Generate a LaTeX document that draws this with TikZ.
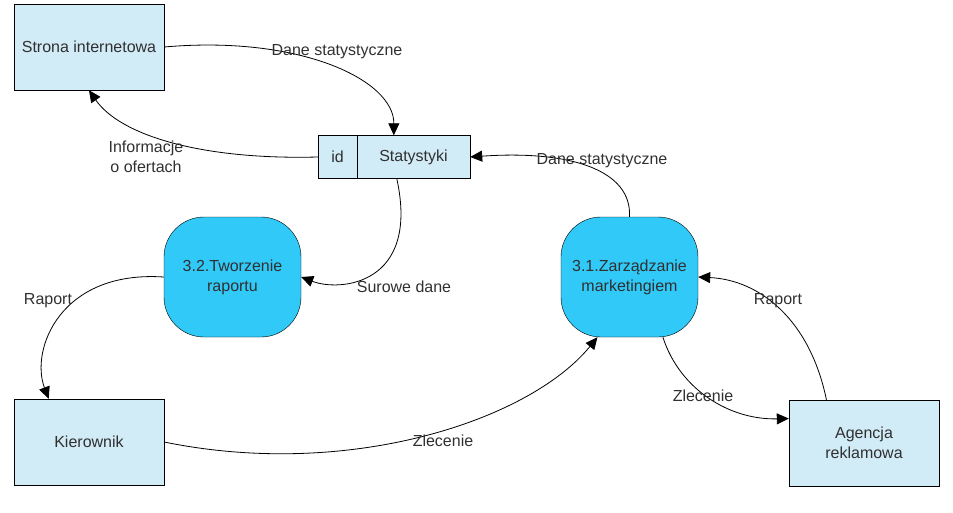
\documentclass[tikz,border=0pt]{standalone}
\usepackage{fontspec}
\setmainfont{Liberation Sans}
\usetikzlibrary{arrows.meta,positioning}
\definecolor{extfill}{RGB}{209,235,247}
\definecolor{procfill}{RGB}{49,201,247}
\definecolor{txt}{RGB}{48,48,48}
\begin{document}
\begin{tikzpicture}[
  x=1pt, y=-1pt,
  >={Triangle[length=12pt,width=11pt]},
  every node/.style={
    text=txt, align=center,
    font=\fontsize{16}{20}\selectfont},
  ext/.style={draw,fill=extfill,inner sep=0pt,
    minimum width=150pt, minimum height=86pt},
  proc/.style={draw,fill=procfill,inner sep=0pt,rounded corners=40pt,
    minimum width=137pt, minimum height=120pt},
  store/.style={draw,fill=extfill,inner sep=0pt,minimum height=43pt},
  flow/.style={->,line width=0.8pt},
  lab/.style={inner sep=1pt}]

  \useasboundingbox (0,0) rectangle (953,512);

  % entities and processes
  \node[ext] (www) at (89,47) {Strona internetowa};
  \node[ext] (kier) at (89,442) {Kierownik};
  \node[ext] (agen) at (864,443) {Agencja\\reklamowa};
  \node[proc] (p32) at (232.5,277) {3.2.Tworzenie\\raportu};
  \node[proc] (p31) at (629.5,277) {3.1.Zarządzanie\\marketingiem};

  % data store
  \node[store, minimum width=39pt] (id) at (337.5,157) {id};
  \node[store, minimum width=113pt, right=-0.4pt of id] (stat) {Statystyki};

  % flows
  \draw[flow] (www.east) .. controls (300,35) and (394,80) .. ([xshift=37pt]stat.north west);
  \draw[flow] (id.west) .. controls (200,160) and (120,135) .. (www.south);
  \draw[flow] ([xshift=40pt]stat.south west) .. controls (420,285) and (340,292) .. (p32.east);
  \draw[flow] (p31.north) .. controls (632,170) and (570,150) .. (stat.east);
  \draw[flow] (p32.west) .. controls (60,270) and (30,350) .. (kier.133);
  \draw[flow] (kier.east) .. controls (350,480) and (530,420) .. (p31.242);
  \draw[flow] (p31.299) .. controls (680,390) and (730,420) .. (agen.162);
  \draw[flow] (agen.131) .. controls (810,320) and (760,280) .. (p31.east);

  % flow labels
  \node[lab] (l1) at (337,52) {Dane statystyczne};
  \node[lab] (l2) at (146,157) {Informacje\\o ofertach};
  \node[lab] (l3) at (404,287) {Surowe dane};
  \node[lab] (l4) at (602,161) {Dane statystyczne};
  \node[lab] (l5) at (48,301) {Raport};
  \node[lab] (l6) at (443,441) {Zlecenie};
  \node[lab] (l7) at (703,396) {Zlecenie};
  \node[lab] (l8) at (778,301) {Raport};
\end{tikzpicture}
\end{document}
